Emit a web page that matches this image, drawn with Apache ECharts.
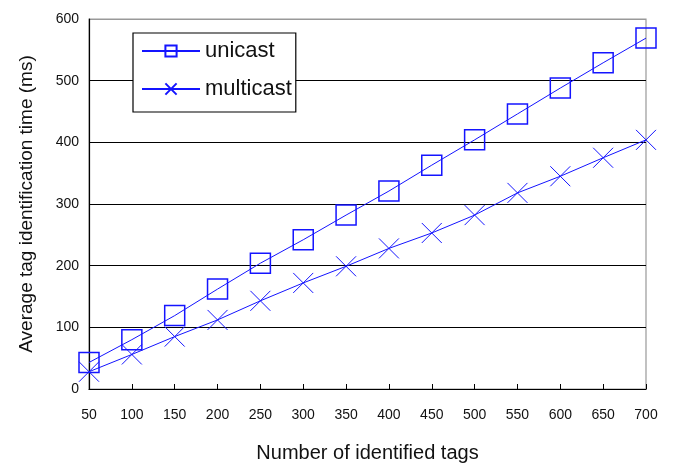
<!DOCTYPE html>
<html><head><meta charset="utf-8">
<script src="https://cdn.jsdelivr.net/npm/echarts@6/dist/echarts.min.js"></script>
<style>html,body{margin:0;padding:0;background:#fff}#c{width:673px;height:468px}</style>
</head><body><div id="c"></div>
<script>
const tags = [50,100,150,200,250,300,350,400,450,500,550,600,650,700];
const unicast = [43,80,119,162,204,242,282,321,363,404,446,488,529,569];
const multicast = [28,56,85,112,143,172,199,228,253,282,318,345,375,404];
const seriesNames = ['unicast','multicast'];
const xName = 'Number of identified tags';
const yName = 'Average tag identification time (ms)';

const FONT = "'Liberation Sans', Arial, sans-serif";
const BLUE = '#1414ff';
const chart = echarts.init(document.getElementById('c'));
chart.setOption({
  animation: false,
  backgroundColor: '#fff',
  grid: {left: 89, right: 27, top: 19, bottom: 76, show: true, borderColor: '#999', borderWidth: 1.2},
  legend: {
    orient: 'vertical', left: 133, top: 33,
    backgroundColor: '#fff', borderColor: '#000', borderWidth: 1.2,
    padding: [7, 4, 12, 8], itemGap: 16, itemWidth: 58, itemHeight: 14,
    textStyle: {fontFamily: FONT, fontSize: 22, color: '#111'},
    data: seriesNames
  },
  xAxis: {
    type: 'value', min: 50, max: 700, interval: 50,
    name: xName, nameLocation: 'middle', nameGap: 54,
    nameTextStyle: {fontFamily: FONT, fontSize: 20, color: '#111'},
    axisLine: {lineStyle: {color: '#000', width: 1.2}},
    axisTick: {show: true, inside: true, length: 5, lineStyle: {color: '#000'}},
    axisLabel: {fontFamily: FONT, fontSize: 14, color: '#111', margin: 19, showMinLabel: true, showMaxLabel: true},
    splitLine: {show: false}
  },
  yAxis: {
    type: 'value', min: 0, max: 600, interval: 100,
    name: yName, nameLocation: 'middle', nameGap: 53,
    nameTextStyle: {fontFamily: FONT, fontSize: 19, color: '#111'},
    axisLine: {show: true, lineStyle: {color: '#000', width: 1.2}},
    axisTick: {show: false},
    axisLabel: {fontFamily: FONT, fontSize: 14, color: '#111', margin: 10},
    splitLine: {show: true, lineStyle: {color: ['#000','#000','#000','#000','#000','#000','#999'], width: 1.2}}
  },
  series: [
    {
      name: seriesNames[0], type: 'line',
      data: tags.map((t, i) => [t, unicast[i]]),
      symbol: 'rect', symbolSize: 20,
      itemStyle: {color: 'rgba(0,0,0,0)', borderColor: BLUE, borderWidth: 1.5},
      lineStyle: {color: BLUE, width: 1}
    },
    {
      name: seriesNames[1], type: 'line',
      data: tags.map((t, i) => [t, multicast[i]]),
      symbol: 'path://M0,0L10,10M10,0L0,10', symbolSize: 20,
      itemStyle: {color: 'rgba(0,0,0,0)', borderColor: BLUE, borderWidth: 1},
      lineStyle: {color: BLUE, width: 1}
    }
  ]
});
</script></body></html>
